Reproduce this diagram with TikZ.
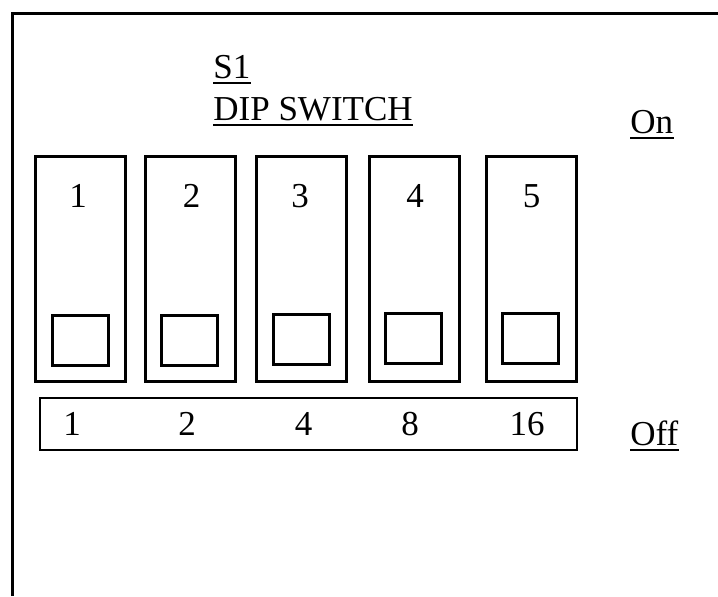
\documentclass[tikz,border=0pt]{standalone}
\usepackage{fontspec}
\setmainfont{Liberation Serif}
\begin{document}
\begin{tikzpicture}[x=0.5pt,y=-0.5pt,
  lbl/.style={inner sep=0pt,font=\fontsize{17.5}{21}\selectfont,anchor=base},
  swbox/.style={draw,line width=1.5pt,minimum width=45pt,minimum height=112.5pt,inner sep=0pt},
  knob/.style={draw,line width=1.5pt,minimum width=28pt,minimum height=25pt,inner sep=0pt},
  valbox/.style={draw,line width=1pt,minimum width=268.75pt,minimum height=26pt,inner sep=0pt},
  uline/.style={line width=0.9pt}]
\useasboundingbox (0,0) rectangle (718,596);
% outer frame (left and top edges visible)
\coordinate (fbl) at (12,596);
\coordinate (ftl) at (12,13);
\coordinate (ftr) at (718,13);
\draw[line width=1.5pt] (fbl) -- (ftl) -- (ftr);
% title
\node[lbl,anchor=base west] (s1) at (213,78) {S1};
\node[lbl,anchor=base west] (dip) at (213,120) {DIP SWITCH};
\draw[uline] ([yshift=-2.5pt]s1.base west) -- ([yshift=-2.5pt]s1.base east);
\draw[uline] ([yshift=-2.5pt]dip.base west) -- ([yshift=-2.5pt]dip.base east);
% On / Off
\node[lbl,anchor=base west] (on) at (630,133) {On};
\node[lbl,anchor=base west] (off) at (630,445) {Off};
\draw[uline] ([yshift=-2.5pt]on.base west) -- ([yshift=-2.5pt]on.base east);
\draw[uline] ([yshift=-2.5pt]off.base west) -- ([yshift=-2.5pt]off.base east);
% switches
\node[swbox] (sw1) at (80.5,269) {};
\node[swbox] (sw2) at (190.25,269) {};
\node[swbox] (sw3) at (301.5,269) {};
\node[swbox] (sw4) at (414,269) {};
\node[swbox] (sw5) at (531.5,269) {};
\node[lbl] (n1) at (78,207) {1};
\node[lbl] (n2) at (191.5,207) {2};
\node[lbl] (n3) at (300,207) {3};
\node[lbl] (n4) at (415,207) {4};
\node[lbl] (n5) at (531.5,207) {5};
\node[knob] (k1) at (80,340.5) {};
\node[knob] (k2) at (189.5,340.5) {};
\node[knob] (k3) at (301.25,339.5) {};
\node[knob] (k4) at (413.25,338.75) {};
\node[knob] (k5) at (530.5,338) {};
% values
\node[valbox] (vals) at (308.25,424) {};
\node[lbl] (v1) at (72,435) {1};
\node[lbl] (v2) at (187,435) {2};
\node[lbl] (v4) at (303.5,435) {4};
\node[lbl] (v8) at (410,435) {8};
\node[lbl] (v16) at (527,435) {16};
\end{tikzpicture}
\end{document}
